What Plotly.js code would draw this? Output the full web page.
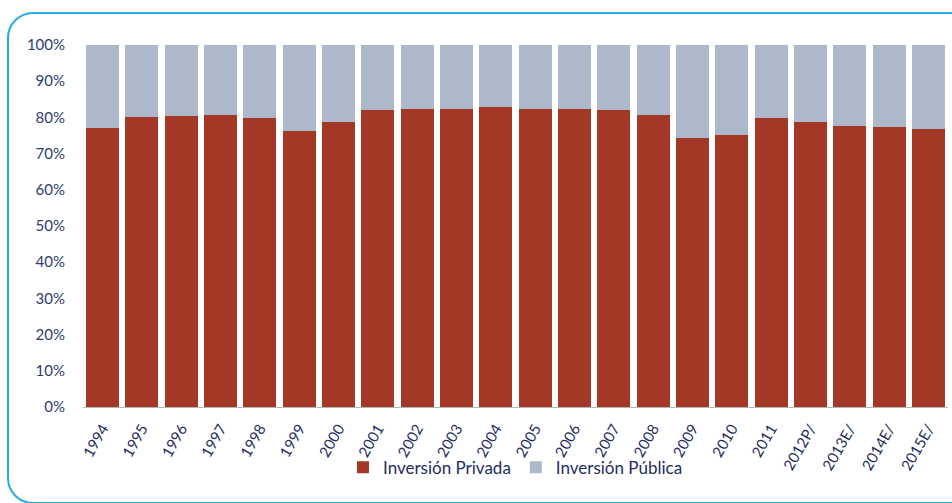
<!DOCTYPE html>
<html>
<head>
<meta charset="utf-8">
<script src="https://cdn.plot.ly/plotly-3.0.1.min.js"></script>
<style>
  html, body { margin: 0; padding: 0; background: #ffffff; }
  #wrap { position: relative; width: 952px; height: 503px; overflow: hidden; }
  #chart { position: absolute; left: 0; top: 0; width: 952px; height: 503px; }
  #frame { position: absolute; left: 7px; top: 12px; width: 975px; height: 488px;
           border: 2px solid #29abe2; border-radius: 26px; pointer-events: none; }
</style>
</head>
<body>
<div id="wrap">
  <div id="chart"></div>
  <div id="frame"></div>
</div>
<script>
const years = ["1994","1995","1996","1997","1998","1999","2000","2001","2002","2003","2004",
               "2005","2006","2007","2008","2009","2010","2011","2012P/","2013E/","2014E/","2015E/"];
const privada = [77.2, 80.0, 80.3, 80.7, 79.8, 76.2, 78.7, 82.0, 82.3, 82.2, 82.8,
                 82.3, 82.3, 82.0, 80.7, 74.3, 75.2, 79.8, 78.7, 77.7, 77.3, 76.7];
const publica = privada.map(v => +(100 - v).toFixed(1));

const navy = "#1f2d62";
const font = "Lato, 'Open Sans', sans-serif";

const data = [
  { type: "bar", name: "Inversión Privada", x: years, y: privada,
    marker: { color: "#a33827" } },
  { type: "bar", name: "Inversión Pública", x: years, y: publica,
    marker: { color: "#adb8ca" } }
];

const layout = {
  width: 952, height: 503,
  margin: { l: 83, r: 4, t: 45, b: 96 },
  barmode: "stack",
  bargap: 0.16,
  paper_bgcolor: "rgba(0,0,0,0)",
  plot_bgcolor: "rgba(0,0,0,0)",
  showlegend: true,
  legend: { orientation: "h", x: 0.5, xanchor: "center", y: -0.168, yanchor: "middle",
            traceorder: "normal",
            font: { family: font, size: 17, color: navy }, itemwidth: 30 },
  xaxis: {
    type: "category",
    tickangle: -60,
    tickfont: { family: font, size: 15, color: navy },
    showline: true, linecolor: "#b5b5b5", linewidth: 1,
    ticks: "", showgrid: false, zeroline: false,
    ticklabelstandoff: 6
  },
  yaxis: {
    range: [0, 100],
    tickvals: [0,10,20,30,40,50,60,70,80,90,100],
    ticktext: ["0%","10%","20%","30%","40%","50%","60%","70%","80%","90%","100%"],
    tickfont: { family: font, size: 15, color: "#2e3b6e" },
    showgrid: false, zeroline: false, showline: false, ticks: "",
    ticklabelstandoff: 17
  }
};

Plotly.newPlot("chart", data, layout, { displayModeBar: false, staticPlot: true });
</script>
</body>
</html>
